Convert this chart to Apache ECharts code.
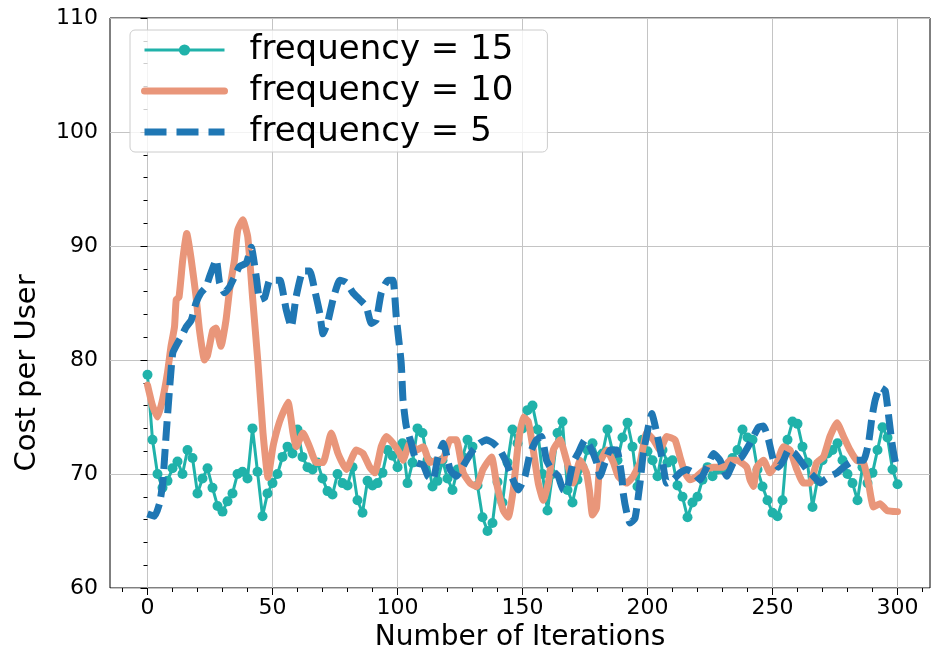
<!DOCTYPE html>
<html>
<head>
<meta charset="utf-8">
<script src="https://cdn.jsdelivr.net/npm/echarts@6/dist/echarts.min.js"></script>
<style>
  html, body { margin: 0; padding: 0; background: #fff; }
  #chart { width: 932px; height: 646px; }
</style>
</head>
<body>
<div id="chart"></div>
<script>
// frequency = 15, one value every 2 iterations (0..300)
const freq15 = [
  78.7, 73.0, 70.0, 68.8, 69.4, 70.5, 71.1, 70.0, 72.1, 71.4,
  68.3, 69.6, 70.5, 68.8, 67.2, 66.7, 67.6, 68.3, 70.0, 70.2,
  69.6, 74.0, 70.2, 66.3, 68.3, 69.2, 70.0, 71.5, 72.4, 71.8,
  73.9, 71.5, 70.6, 70.4, 71.0, 69.6, 68.5, 68.2, 70.0, 69.2,
  69.0, 70.6, 67.7, 66.6, 69.4, 69.0, 69.2, 70.1, 72.1, 71.6,
  70.6, 72.7, 69.2, 71.0, 74.0, 73.6, 71.2, 68.9, 69.4, 71.2,
  69.6, 68.6, 70.4, 71.5, 73.0, 72.4, 69.0, 66.2, 65.0, 65.7,
  69.3, 67.5, 71.0, 73.9, 72.7, 74.0, 75.6, 76.0, 73.9, 70.0,
  66.8, 70.0, 73.6, 74.6, 68.6, 67.5, 69.5, 70.6, 72.1, 72.7,
  71.5, 71.8, 73.9, 72.0, 71.2, 73.2, 74.5, 72.4, 68.9, 73.0,
  72.0, 71.2, 69.8, 72.1, 71.0, 71.2, 69.0, 68.0, 66.2, 67.5,
  68.0, 69.5, 70.6, 69.8, 70.4, 70.4, 70.6, 71.4, 72.1, 73.9,
  73.2, 73.0, 70.4, 68.9, 67.7, 66.6, 66.3, 67.7, 73.0, 74.6,
  74.4, 72.4, 71.0, 67.1, 69.5, 71.2, 71.8, 72.1, 72.7, 71.2,
  70.0, 69.2, 67.7, 70.6, 69.2, 70.1, 72.1, 74.1, 73.2, 70.4,
  69.1
];

// frequency = 10
const freq10X = [
  0, 2, 4, 6, 8, 9.4, 10.8, 11.5, 12.6, 14.1, 15.7, 17.5, 19.4, 20.8, 22.8, 24,
  26.1, 27.4, 29.4, 31.4, 32.8, 34.8, 36.1, 38.1, 40.1, 42.1, 44.2, 46.2, 48.2, 50.2,
  52, 53.5, 56.2, 58.2, 59.5, 62.2, 64.8, 67.5, 70.2, 73.5, 76.2, 79.5, 83.5, 86.2,
  88.9, 90.9, 93.5, 95.5, 98.2, 100.9, 102.2, 104.9, 107.6, 110.3, 112.9, 115.6,
  118, 121, 123.5, 126.3, 129, 131.6, 134.2, 137.6, 139.6, 142.3, 144.3, 146.3,
  148.3, 150.3, 152.3, 154.3, 156.3, 158.3, 160.3, 162.3, 165, 167.6, 170.3, 173,
  175.6, 176.8, 178, 179.6, 181, 183.7, 186.4, 188.3, 191.7, 194.3, 197, 199.7,
  202.4, 205, 207.7, 211, 213, 215, 217, 219.7, 223, 226.4, 230.4, 233, 235.7,
  239.7, 241, 242.4, 243.7, 246.4, 249, 251.8, 254.4, 257, 259.7, 262.4, 265,
  267.7, 270.4, 273, 275.8, 278.4, 281, 283.7, 286.4, 288.4, 290.4, 293, 295.8, 300
];
const freq10Y = [
  77.8, 76.0, 75.0, 76.5, 78.9, 81.2, 82.9, 85.3, 85.5, 88.8, 91.1, 88.8, 85.6, 82.6, 80.0, 80.4,
  82.6, 82.8, 81.2, 83.5, 86.1, 88.8, 91.4, 92.3, 90.8, 85.3, 79.7, 73.6, 69.7, 72.4,
  74.0, 75.0, 76.3, 73.6, 72.4, 73.6, 72.4, 71.0, 71.0, 73.6, 71.8, 70.4, 72.1, 71.8,
  70.6, 70.1, 72.4, 73.3, 72.7, 71.8, 71.2, 72.7, 72.1, 72.4, 71.0, 71.2,
  71.2, 73.0, 73.0, 70.1, 69.2, 68.9, 70.4, 71.5, 69.2, 66.8, 66.2, 68.6,
  72.7, 75.0, 74.6, 72.1, 69.2, 67.7, 69.2, 72.1, 73.0, 71.2, 69.2, 71.2,
  70.1, 68.5, 66.4, 67.0, 71.0, 72.1, 71.0, 69.8, 69.2, 69.8, 71.0, 73.6,
  73.0, 72.1, 73.3, 73.0, 71.5, 70.1, 69.5, 69.8, 70.4, 70.6, 70.6, 71.2, 71.2,
  70.6, 69.5, 68.9, 70.6, 71.2, 70.1, 71.0, 72.4, 72.1, 70.4, 69.2, 69.2,
  71.0, 71.5, 73.3, 74.5, 73.3, 72.1, 71.2, 71.0, 69.2, 67.1, 67.4, 66.8, 66.7
];

// frequency = 5
const freq5X = [
  0, 2.8, 4.8, 6.1, 7.5, 8.8, 10.1, 12.1, 14.1, 15.5, 17.5, 19.4, 21.4, 23.4, 24.8,
  27.5, 28.8, 30.8, 32.8, 34.8, 36.8, 39.5, 41.5, 43.5, 44.9, 46.9, 48.9, 51.5, 53,
  55.5, 57.5, 59.5, 62.2, 64.9, 66.9, 68.9, 70.2, 72.2, 74.2, 76.9, 79.5, 82.2, 84.9,
  87.5, 89.5, 91.5, 93.5, 96.2, 98.2, 99.5, 101.5, 102.2, 103.5, 105.5, 107.6, 110.3,
  112.2, 114.2, 116.2, 118.3, 121, 123.5, 127.6, 130.2, 132.9, 135.6, 138.3, 141,
  143.6, 145.6, 148.3, 151, 153, 155.6, 157.6, 159.6, 161.6, 164.3, 166.3, 167.6,
  170.2, 172.2, 175, 177, 179.7, 181, 183, 185, 187.7, 189.7, 190.3, 191.7, 193,
  195, 197, 198.3, 200.3, 201.7, 203.7, 205.7, 207.7, 210.3, 213, 215.7, 218.4,
  221, 223.7, 226.4, 229, 231.7, 234.4, 237.7, 241, 244.4, 246.4, 248.4, 250.4,
  252.4, 254.4, 256.4, 259, 261.7, 263.7, 266.4, 269.1, 271, 273.1, 275.8, 278.4,
  281, 283.7, 286.4, 288.4, 289.8, 291.1, 293.1, 295.1, 296.5, 297.8, 299.2, 300
];
const freq5Y = [
  66.5, 66.3, 67.4, 69.2, 73.6, 77.4, 80.6, 81.5, 82.3, 82.9, 83.5, 85.0, 85.9, 86.4, 87.3,
  88.8, 86.8, 85.9, 86.4, 87.3, 88.2, 88.5, 89.9, 87.3, 85.3, 85.5, 87.0, 87.0, 87.0,
  84.4, 82.9, 85.6, 87.8, 87.8, 86.1, 84.1, 82.3, 83.4, 85.3, 87.0, 86.8, 85.9, 85.3,
  84.7, 83.2, 83.5, 85.9, 87.0, 87.0, 83.8, 79.7, 76.5, 74.2, 72.7, 71.0, 70.8,
  69.8, 69.5, 71.5, 72.7, 70.4, 69.8, 71.2, 72.1, 72.7, 73.0, 72.7, 72.1,
  71.0, 69.8, 68.6, 69.8, 71.8, 73.0, 73.3, 71.2, 70.4, 69.8, 68.6, 68.6,
  71.0, 71.8, 73.0, 72.4, 71.0, 69.8, 71.0, 72.1, 72.1, 69.8, 68.3, 66.6, 65.7,
  66.1, 69.2, 71.8, 74.1, 75.3, 73.6, 71.5, 69.2, 69.5, 70.1, 70.4, 70.1,
  69.5, 70.6, 71.8, 71.2, 69.8, 71.0, 71.5, 72.7, 74.1, 74.2, 73.0, 71.2,
  70.6, 71.2, 72.1, 71.8, 71.0, 70.4, 69.8, 69.2, 69.5, 69.8, 70.1, 70.6,
  71.0, 71.2, 71.2, 72.7, 75.0, 76.5, 77.6, 77.3, 75.0, 72.7, 71.0, 70.8
];

const xMajor = [0, 50, 100, 150, 200, 250, 300];
const xMinor = [-10, 10, 20, 30, 40, 60, 70, 80, 90, 110, 120, 130, 140, 160, 170, 180, 190,
  210, 220, 230, 240, 260, 270, 280, 290, 310];

const font = 'DejaVu Sans';
const TEAL = '#20b2aa';
const SALMON = '#e9967a';
const BLUE = '#1f77b4';
const pair = (xs, ys) => ys.map((v, i) => [xs[i], v]);

const chart = echarts.init(document.getElementById('chart'));

const option = {
  animation: false,
  grid: {
    left: 110, right: 2, top: 18, bottom: 58,
    outerBoundsMode: 'none',
    show: true, borderColor: '#000', borderWidth: 1, backgroundColor: 'transparent'
  },
  legend: {
    orient: 'vertical',
    left: 130, top: 30,
    padding: [3, 34, 3, 11],
    itemGap: 7,
    itemWidth: 80, itemHeight: 14,
    backgroundColor: 'rgba(255,255,255,0.8)',
    borderColor: '#cccccc', borderWidth: 1, borderRadius: 5,
    textStyle: { fontFamily: font, fontSize: 34, color: '#000', padding: [0, 0, 0, 20] },
    data: [
      { name: 'frequency = 15', lineStyle: { width: 3 } },
      { name: 'frequency = 10', itemStyle: { opacity: 0 }, lineStyle: { width: 7 } },
      { name: 'frequency = 5', itemStyle: { opacity: 0 }, lineStyle: { width: 7, type: [22, 10] } }
    ]
  },
  xAxis: [
    {
      type: 'value', min: -15, max: 313,
      name: 'Number of Iterations', nameLocation: 'middle', nameGap: 27,
      nameTextStyle: { fontFamily: font, fontSize: 28, color: '#000' },
      axisLine: { show: false },
      axisTick: { show: true, length: 7, customValues: xMajor, lineStyle: { color: '#000' } },
      axisLabel: { customValues: xMajor, fontFamily: font, fontSize: 22, color: '#000', margin: 9 },
      splitLine: { show: true, lineStyle: { color: '#c4c4c4', width: 1 } }
    },
    {
      type: 'value', min: -15, max: 313, position: 'bottom',
      axisLine: { show: false },
      axisTick: { show: true, length: 4, customValues: xMinor, lineStyle: { color: '#000' } },
      axisLabel: { show: false },
      splitLine: { show: false }
    }
  ],
  yAxis: {
    type: 'value', min: 60, max: 110, interval: 10,
    name: 'Cost per User', nameLocation: 'middle', nameGap: 68, nameRotate: 90,
    nameTextStyle: {
      fontFamily: font, fontSize: 29, color: '#000', padding: [0, 140, 0, 0]
    },
    axisLine: { show: false },
    axisTick: { show: true, length: 7, lineStyle: { color: '#000' } },
    minorTick: { show: true, splitNumber: 5, length: 4, lineStyle: { color: '#000' } },
    axisLabel: { fontFamily: font, fontSize: 22, color: '#000', margin: 12 },
    splitLine: { show: true, lineStyle: { color: '#c4c4c4', width: 1 } }
  },
  series: [
    {
      name: 'frequency = 15', type: 'line',
      data: freq15.map((v, i) => [i * 2, v]),
      symbol: 'circle', symbolSize: 10, showSymbol: true,
      itemStyle: { color: TEAL },
      lineStyle: { color: TEAL, width: 3 },
      z: 2
    },
    {
      name: 'frequency = 10', type: 'line',
      data: pair(freq10X, freq10Y),
      symbol: 'none', smooth: 0.15,
      itemStyle: { color: SALMON },
      lineStyle: { color: SALMON, width: 7, join: 'round', cap: 'round' },
      z: 3
    },
    {
      name: 'frequency = 5', type: 'line',
      data: pair(freq5X, freq5Y),
      symbol: 'none', smooth: 0.15,
      itemStyle: { color: BLUE },
      lineStyle: { color: BLUE, width: 7, type: [20, 8], join: 'round' },
      z: 4
    }
  ]
};

chart.setOption(option);
</script>
</body>
</html>
